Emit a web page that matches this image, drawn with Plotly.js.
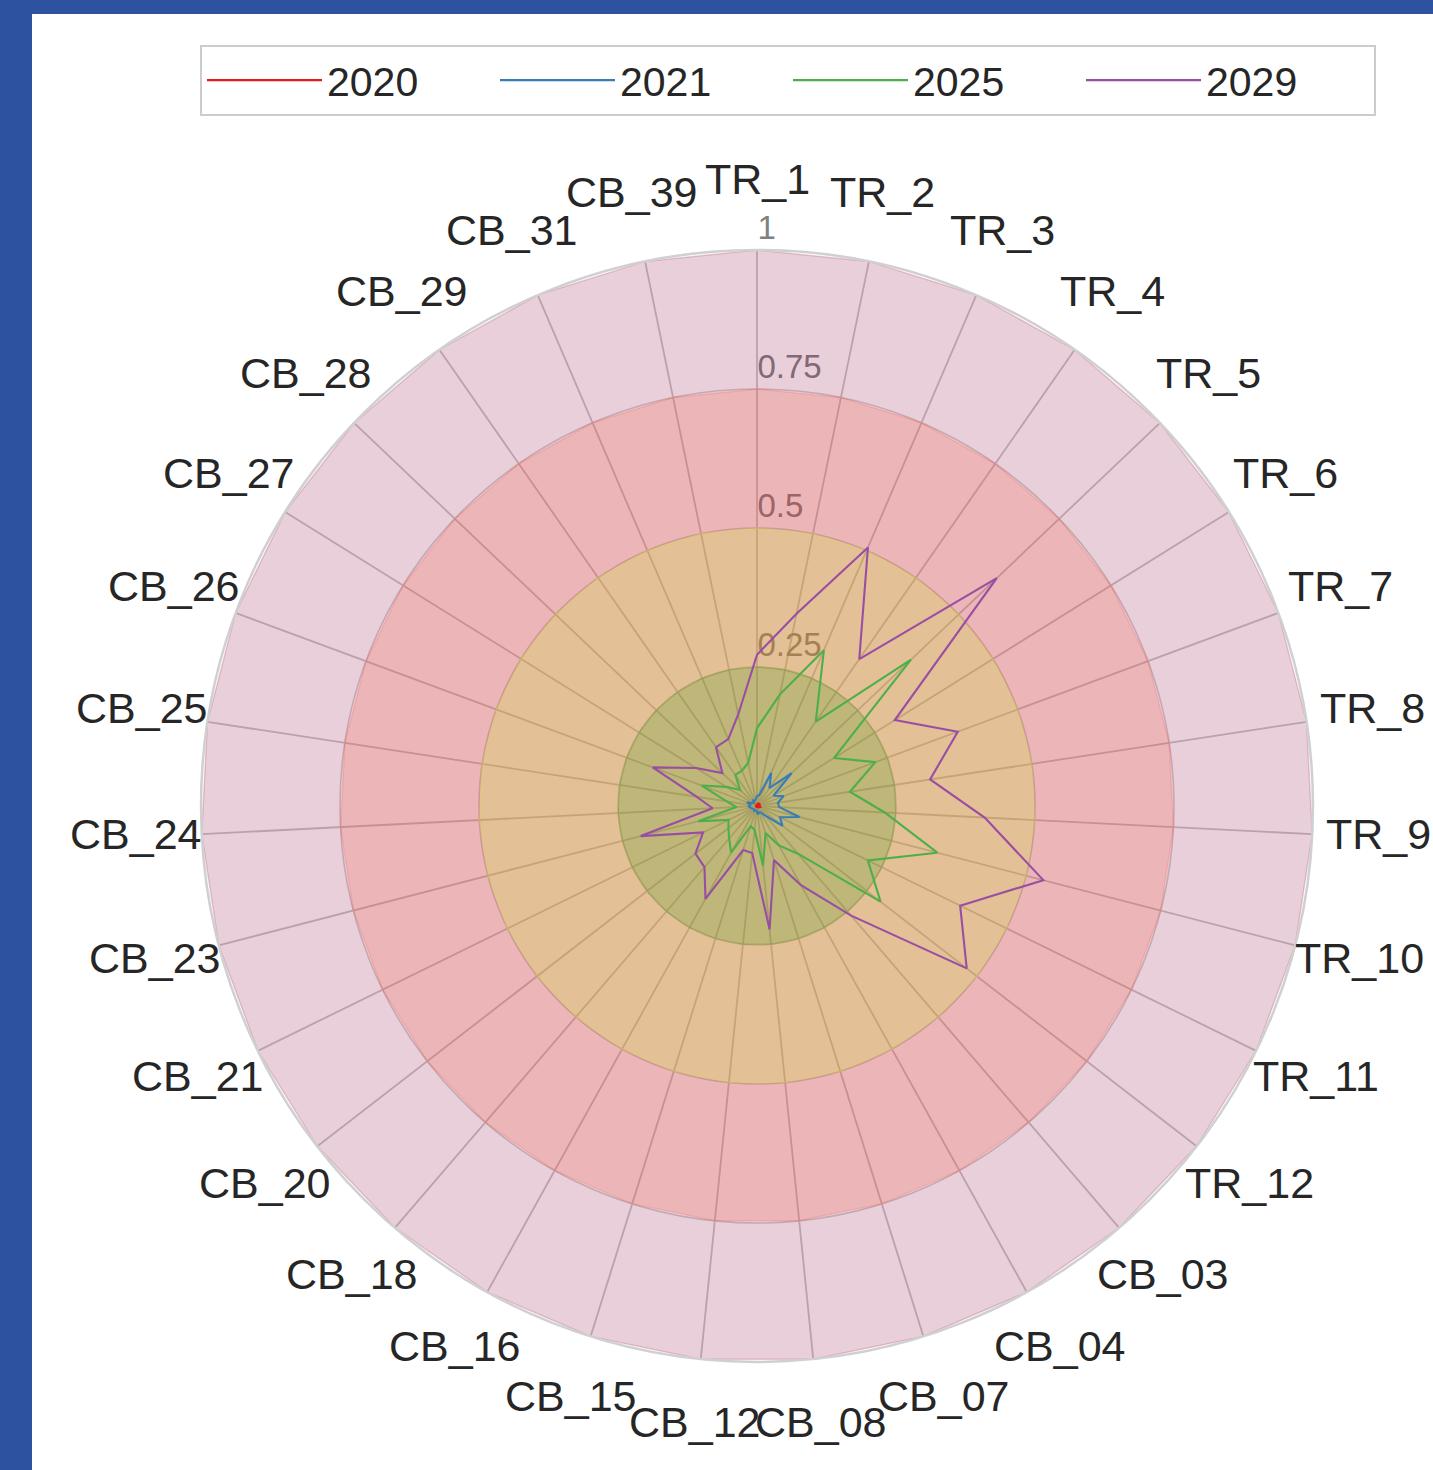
<!DOCTYPE html>
<html>
<head>
<meta charset="utf-8">
<script src="https://cdn.plot.ly/plotly-3.0.1.min.js"></script>
<style>
  html, body { margin: 0; padding: 0; background: #2D52A0; overflow: hidden; }
  #chart { position: absolute; left: 32px; top: 14px; width: 1401px; height: 1456px; background: #ffffff; }
</style>
</head>
<body>
<div id="chart"></div>
<script>
const categories = ["TR_1","TR_2","TR_3","TR_4","TR_5","TR_6","TR_7","TR_8","TR_9","TR_10","TR_11","TR_12",
  "CB_03","CB_04","CB_07","CB_08","CB_12","CB_15","CB_16","CB_18","CB_20","CB_21","CB_23","CB_24",
  "CB_25","CB_26","CB_27","CB_28","CB_29","CB_31","CB_39"];

const series2020 = [0.004,0.004,0.006,0.004,0.007,0.004,0.005,0.004,0.005,0.006,0.004,0.005,
  0.003,0.002,0.002,0.002,0.002,0.002,0.002,0.002,0.002,0.002,0.002,0.002,0.002,0.003,0.002,0.002,0.002,0.002,0.003];
const series2021 = [0.018,0.020,0.065,0.039,0.086,0.035,0.051,0.038,0.040,0.079,0.046,0.058,
  0.023,0.013,0.012,0.015,0.008,0.008,0.010,0.008,0.008,0.010,0.012,0.015,0.012,0.019,0.010,0.008,0.012,0.010,0.012];
const series2025 = [0.140,0.205,0.305,0.185,0.382,0.163,0.227,0.169,0.230,0.335,0.222,0.281,
  0.113,0.081,0.051,0.108,0.043,0.038,0.096,0.077,0.065,0.057,0.109,0.037,0.055,0.106,0.065,0.042,0.068,0.069,0.079];
const series2029 = [0.272,0.353,0.506,0.322,0.595,0.292,0.385,0.315,0.410,0.532,0.407,0.477,
  0.260,0.163,0.102,0.223,0.085,0.083,0.191,0.145,0.140,0.108,0.216,0.080,0.110,0.200,0.129,0.086,0.129,0.131,0.168];

const seriesNames = ["2020","2021","2025","2029"];
const seriesColors = ["#E41A1C","#377EB8","#4DAF4A","#984EA3"];

const bandLevels = [1, 0.75, 0.5, 0.25];
const bandColors = ["rgba(140,15,70,0.2)","rgba(255,81,48,0.2)","rgba(202,241,14,0.2)","rgba(45,143,10,0.2)"];

const radialTickVals = [0.25, 0.5, 0.75, 1];
const radialTickText = ["0.25", "0.5", "0.75", "1"];

const W = 1401, H = 1456;
const polarDomain = { x: [0.12063, 0.91435], y: [0.07418, 0.83791] };
const labelRadius = 1.12; // angular labels centred just outside the outer ring

function closeLoop(arr) { return arr.concat([arr[0]]); }
const thetaClosed = closeLoop(categories);

const traces = [];
bandLevels.forEach(function (lvl, i) {
  traces.push({
    type: "scatterpolar",
    r: closeLoop(categories.map(function () { return lvl; })),
    theta: thetaClosed,
    mode: "lines",
    fill: "toself",
    fillcolor: bandColors[i],
    line: { color: bandColors[i], width: 1.5 },
    showlegend: false,
    hoverinfo: "skip"
  });
});
[series2020, series2021, series2025, series2029].forEach(function (s, i) {
  traces.push({
    type: "scatterpolar",
    r: closeLoop(s),
    theta: thetaClosed,
    mode: "lines",
    name: seriesNames[i],
    line: { color: seriesColors[i], width: 2.1 }
  });
});

// angular category labels, centred on their spoke direction (matplotlib style)
const cxP = (polarDomain.x[0] + polarDomain.x[1]) / 2;
const cyP = (polarDomain.y[0] + polarDomain.y[1]) / 2;
const radiusPx = (polarDomain.x[1] - polarDomain.x[0]) * W / 2;
const angularLabels = categories.map(function (c, i) {
  const a = i * 2 * Math.PI / categories.length;
  return {
    text: c, xref: "paper", yref: "paper",
    x: cxP + labelRadius * radiusPx * Math.sin(a) / W,
    y: cyP + labelRadius * radiusPx * Math.cos(a) / H,
    yshift: 4,
    showarrow: false, xanchor: "center", yanchor: "middle",
    font: { size: 43, color: "#262626" }
  };
});

const layout = {
  width: W, height: H,
  margin: { l: 0, r: 0, t: 0, b: 0 },
  paper_bgcolor: "#ffffff",
  font: { family: "Liberation Sans, Arial, sans-serif", color: "#262626" },
  showlegend: true,
  legend: {
    orientation: "h", x: 0.1199, xanchor: "left", y: 0.9787, yanchor: "top",
    bordercolor: "#cccccc", borderwidth: 2, bgcolor: "#ffffff",
    font: { size: 41, color: "#262626" },
    itemwidth: 115, entrywidth: 163, entrywidthmode: "pixels"
  },
  annotations: angularLabels,
  polar: {
    domain: polarDomain,
    bgcolor: "#ffffff",
    angularaxis: {
      type: "category", categoryarray: categories,
      direction: "clockwise", rotation: 90,
      showgrid: true, gridcolor: "#c6c6c6", gridwidth: 1.8,
      showline: true, linecolor: "#d0d0d0", linewidth: 2.5,
      ticks: "", showticklabels: false,
      layer: "above traces"
    },
    radialaxis: {
      range: [0, 1], angle: 90, tickangle: 90,
      tickvals: radialTickVals,
      ticktext: radialTickText.map(function (t) { return t + "<br> "; }),
      tickfont: { size: 33, color: "#808080" },
      showline: false, showgrid: true, gridcolor: "#d0d0d0", gridwidth: 1.6,
      ticks: "", layer: "below traces"
    }
  }
};

Plotly.newPlot("chart", traces, layout, { displayModeBar: false, staticPlot: true });
</script>
</body>
</html>
